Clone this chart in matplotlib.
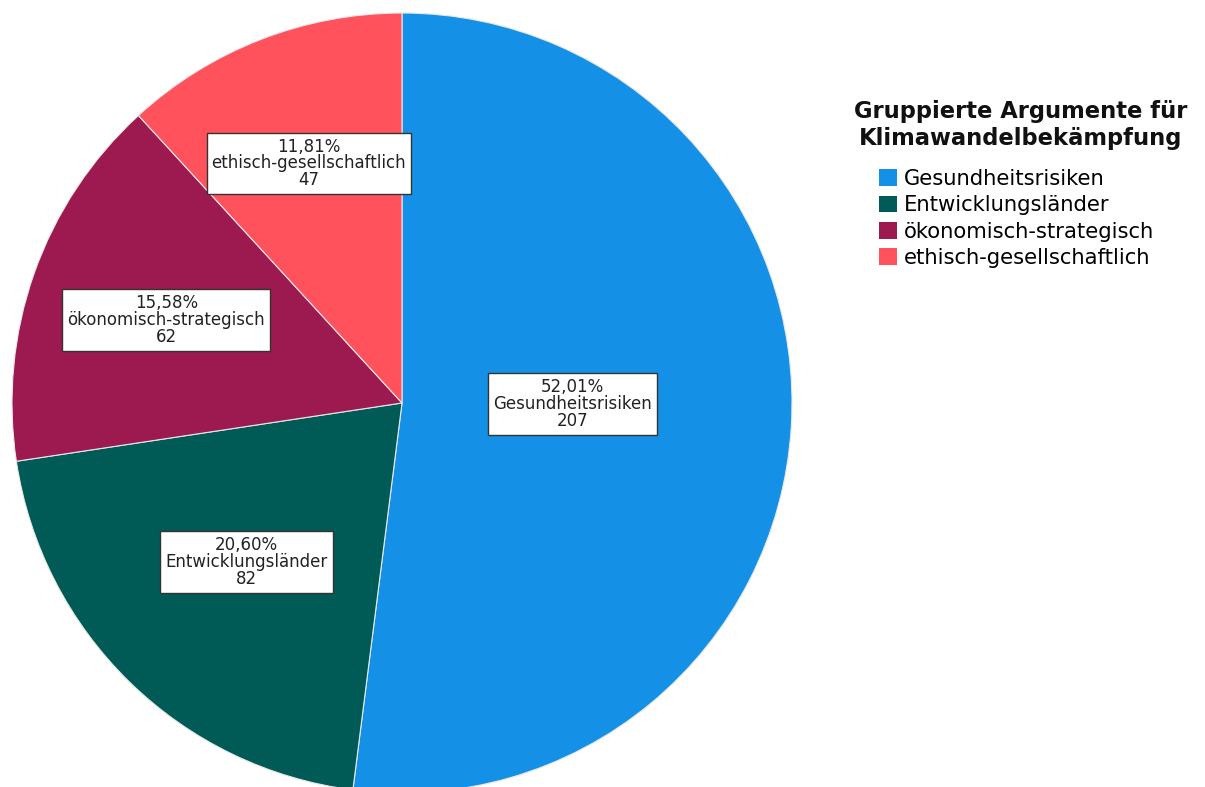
import numpy as np
import matplotlib.pyplot as plt
from matplotlib.patches import Patch

# Data
categories = ['Gesundheitsrisiken', 'Entwicklungsländer', 'ökonomisch-strategisch', 'ethisch-gesellschaftlich']
counts = [207, 82, 62, 47]
percent_labels = ['52,01%', '20,60%', '15,58%', '11,81%']
colors = ['#1491E6', '#005A55', '#9C1A4F', '#FF525C']

# label placement (fraction of radius, angle shift in degrees)
label_radius = [0.438, 0.571, 0.641, 0.659]
label_shift = [3.3, 0, 0, 0]

W, H = 1205, 787
fig = plt.figure(figsize=(W / 100, H / 100), dpi=100)

# pie axes placed in pixels: center (402, 403), radius 390
cx, cy, r = 402, 403, 390
ax = fig.add_axes([(cx - r) / W, (H - cy - r) / H, 2 * r / W, 2 * r / H])
wedges, _ = ax.pie(counts, colors=colors, startangle=90, counterclock=False,
                   radius=1, wedgeprops=dict(edgecolor='#e8e8e8', linewidth=0.8))
ax.set_xlim(-1, 1)
ax.set_ylim(-1, 1)
ax.set_aspect('auto')
ax.axis('off')

# labels in boxes near wedge middles
for w, pct, cat, n, rr, sh in zip(wedges, percent_labels, categories, counts, label_radius, label_shift):
    ang = np.deg2rad((w.theta1 + w.theta2) / 2 + sh)
    ax.text(rr * np.cos(ang), rr * np.sin(ang), f'{pct}\n{cat}\n{n}',
            ha='center', va='center', fontsize=12, linespacing=0.92, color='#222222',
            bbox=dict(boxstyle='square,pad=0.3', facecolor='white', edgecolor='#333333', linewidth=1))

# legend title and entries
fig.text(1021 / W, 1 - 100 / H, 'Gruppierte Argumente für\nKlimawandelbekämpfung',
         ha='center', va='top', fontsize=16.3, fontweight='bold', linespacing=1.2, color='#111111')
handles = [Patch(facecolor=c, edgecolor='none') for c in colors]
fig.legend(handles, categories, loc='upper left', bbox_to_anchor=(879 / W, 1 - 169 / H),
           frameon=False, fontsize=15.2, handlelength=0.85, handleheight=0.85,
           handletextpad=0.35, labelspacing=0.3, borderpad=0, borderaxespad=0)

fig.savefig('out.png', dpi=100)
